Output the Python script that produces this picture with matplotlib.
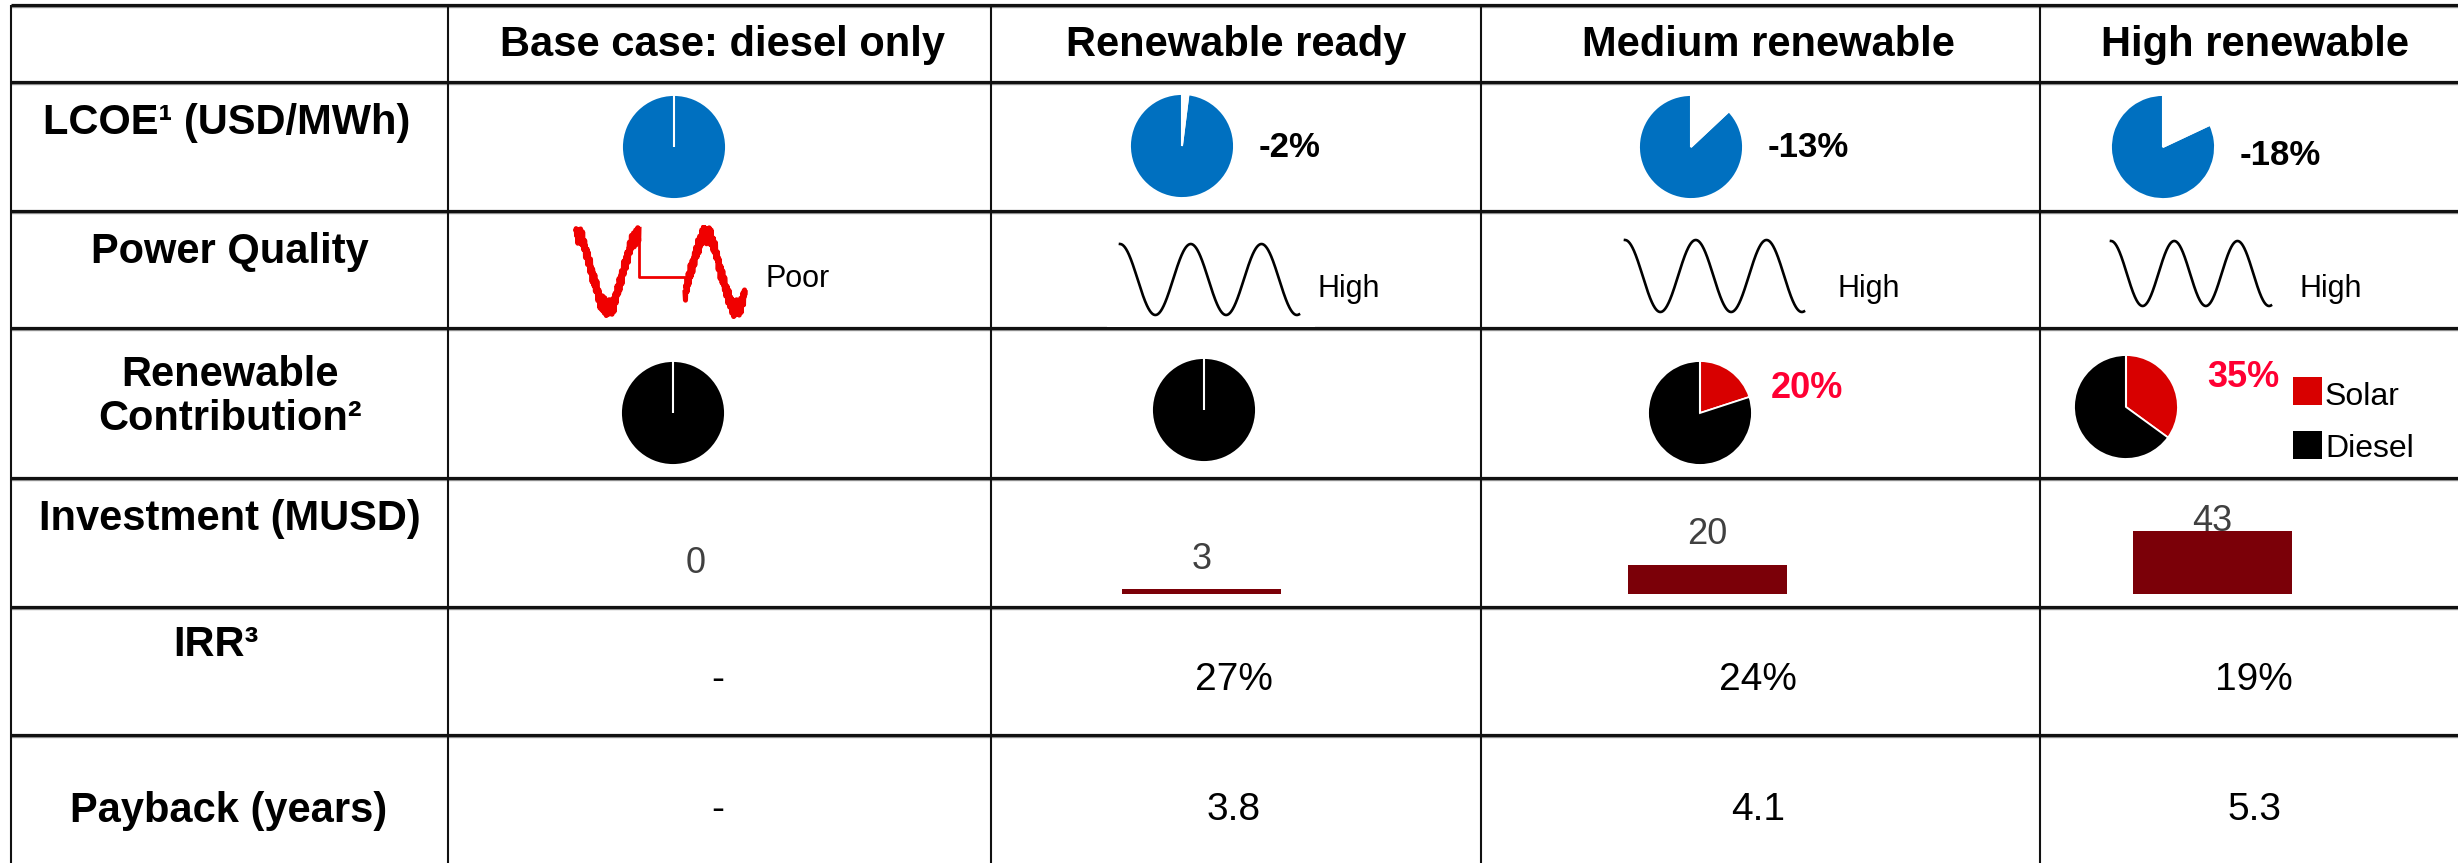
import numpy as np
import matplotlib
matplotlib.use("Agg")
import matplotlib.pyplot as plt

plt.rcParams["font.family"] = ["Liberation Sans", "DejaVu Sans"]

# ---- table content -------------------------------------------------------
scenarios = ["Base case: diesel only", "Renewable ready", "Medium renewable", "High renewable"]
row_labels = ["LCOE\u00b9 (USD/MWh)", "Power Quality", "Renewable\nContribution\u00b2",
              "Investment (MUSD)", "IRR\u00b3", "Payback (years)"]
lcoe_change_pct = [0, -2, -13, -18]
power_quality = ["Poor", "High", "High", "High"]
solar_share_pct = [0, 0, 20, 35]
investment_musd = [0, 3, 20, 43]
irr_pct = [None, 27, 24, 19]
payback_years = [None, 3.8, 4.1, 5.3]
mix_legend = ["Solar", "Diesel"]

# ---- colours ---------------------------------------------------------------
BLUE = "#0070C0"
PIE_RED = "#D80000"
TEXT_RED = "#FF0033"
BAR_RED = "#7B0008"
GREY_TXT = "#404040"

W, H = 2458, 863
fig = plt.figure(figsize=(W / 100, H / 100), dpi=100)
ax = fig.add_axes([0, 0, 1, 1])
ax.set_xlim(0, W)
ax.set_ylim(H, 0)
ax.axis("off")


def sub_axes(x0, y0, w, h):
    """Axes placed by pixel box (top-left origin)."""
    return fig.add_axes([x0 / W, 1 - (y0 + h) / H, w / W, h / H])


# ---- grid ------------------------------------------------------------------
h_lines = [5, 82, 211, 328, 478, 607, 735]
v_lines = [11, 448, 991, 1481, 2040]
for y in h_lines:
    ax.plot([11, W], [y + 2, y + 2], color="#9a9a9a", lw=1.0, solid_capstyle="butt", zorder=1)
    ax.plot([11, W], [y, y], color="#111111", lw=2.3, solid_capstyle="butt", zorder=2)
for x in v_lines:
    ax.plot([x, x], [5, H], color="#111111", lw=1.5, solid_capstyle="butt", zorder=2)

# ---- header and row labels -------------------------------------------------
header_x = [722, 1236, 1768, 2255]
for x, s in zip(header_x, scenarios):
    ax.text(x, 56, s, ha="center", va="baseline", fontsize=30, fontweight="bold")

# baseline of the last line of each label
label_pos = [(227, 134), (230, 263), (230, 430), (230, 530), (216, 656), (229, 822)]
for (x, y), s in zip(label_pos, row_labels):
    ax.text(x, y, s, ha="center", va="baseline", fontsize=30, fontweight="bold",
            linespacing=1.12, multialignment="center")


# ---- pies ------------------------------------------------------------------
def pie_at(cx, cy, r, values, colors, counterclock):
    a = sub_axes(cx - r, cy - r, 2 * r, 2 * r)
    a.pie(values, colors=colors, startangle=90, counterclock=counterclock,
          wedgeprops=dict(edgecolor="white", linewidth=1.3))
    a.plot([0, 0], [0, 1.02], color="white", lw=1.5, solid_capstyle="butt")
    a.set_xlim(-1.02, 1.02)
    a.set_ylim(-1.02, 1.02)
    a.set_aspect("equal")
    a.axis("off")
    return a


lcoe_centers = [(674, 147), (1182, 146), (1691, 147), (2163, 147)]
lcoe_label_base = [157, 157, 157, 165]
for (cx, cy), chg, yb in zip(lcoe_centers, lcoe_change_pct, lcoe_label_base):
    pie_at(cx, cy, 53, [100 + chg, -chg], [BLUE, "white"], True)
    if chg != 0:
        ax.text(cx + 53 + 24, yb, f"{chg}%", ha="left", va="baseline",
                fontsize=25, fontweight="bold")

mix_centers = [(673, 413), (1204, 410), (1700, 413), (2126, 407)]
mix_label_pos = [None, None, (1771, 398), (2207, 387)]
for (cx, cy), s, lp in zip(mix_centers, solar_share_pct, mix_label_pos):
    pie_at(cx, cy, 53, [s, 100 - s], [PIE_RED, "black"], False)
    if s > 0:
        ax.text(lp[0], lp[1], f"{s}%", ha="left", va="baseline",
                fontsize=26, fontweight="bold", color=TEXT_RED)

# legend for the generation mix
for (sq_y, base), name, col in zip([(377, 405), (431, 457)], mix_legend, [PIE_RED, "black"]):
    ax.add_patch(plt.Rectangle((2293, sq_y), 29, 28, color=col, lw=0))
    ax.text(2325, base, name, ha="left", va="baseline", fontsize=23)

# ---- power-quality waveforms -----------------------------------------------
# distorted supply: noisy sine interrupted by a sag
wa = sub_axes(566, 225, 186, 95)


def ripple(t):
    return (0.11 * np.sin(2 * np.pi * 31 * t) + 0.08 * np.sin(2 * np.pi * 57 * t + 1.3)
            + 0.06 * np.sin(2 * np.pi * 97 * t + 0.4) + 0.04 * np.sin(2 * np.pi * 151 * t + 2.1))


ta = np.linspace(0, 1, 700)
xa = 576 + 63 * ta
ya = np.cos(2 * np.pi * ta) + ripple(ta)
tb = np.linspace(0.65, 1.65, 700)
xb = 685 + 60 * (tb - 0.65)
yb = np.cos(2 * np.pi * tb) + ripple(tb + 0.37)
wa.plot(xa, ya, color="#F00000", lw=3.6)
wa.plot(xb, yb, color="#F00000", lw=3.6)
wa.plot([xa[-1], xa[-1], xb[0], xb[0]], [ya[-1], -0.15, -0.15, yb[0]], color="#F00000", lw=2.0)
wa.set_xlim(566, 752)
wa.set_ylim(-1.3, 1.25)
wa.axis("off")
ax.text(766, 287, power_quality[0], ha="left", va="baseline", fontsize=22)

# clean supply: pure sine
sine_boxes = [None, (1120, 244, 179, 71), (1625, 240, 179, 72), (2111, 241, 160, 65)]
high_text = [None, (1318, 297), (1837, 297), (2300, 297)]
ts = np.linspace(0, 2.53, 600)
for box, tp, q in zip(sine_boxes, high_text, power_quality):
    if box is None:
        continue
    x0, y0, w, h = box
    sa = sub_axes(x0 - 4, y0 - 4, w + 8, h + 8)
    sa.plot(ts, np.cos(2 * np.pi * ts), color="black", lw=1.9)
    pad_x = 4 * 2.53 / w
    sa.set_xlim(-pad_x, 2.53 + pad_x)
    pad_y = 4 * 2.0 / h
    sa.set_ylim(-1 - pad_y, 1 + pad_y)
    sa.axis("off")
    ax.text(tp[0], tp[1], q, ha="left", va="baseline", fontsize=22)

# white backing of the clean-sine icon slightly covering the row border
ax.add_patch(plt.Rectangle((1107, 324.5), 208, 2.5, color="white", lw=0, zorder=3))

# ---- investment bars -------------------------------------------------------
px_per_unit = 1.45
slot = 505.6
bx0, bbase, btop = 443, 593.5, 480
ba = sub_axes(bx0, btop, W - bx0, bbase - btop)
pos = np.arange(len(investment_musd))
ba.bar(pos, investment_musd, width=159 / slot, color=BAR_RED, zorder=3)
ba.set_xlim(-0.5, -0.5 + (W - bx0) / slot)
ba.set_ylim(0, (bbase - btop) / px_per_unit)
for i, v in zip(pos, investment_musd):
    ba.text(i, min(v + 14, 43), f"{v}", ha="center", va="baseline",
            fontsize=26, color=GREY_TXT, zorder=2)
ba.axis("off")

# ---- IRR and payback -------------------------------------------------------
val_x = [718, 1234, 1758, 2254]
for x, irr, pb in zip(val_x, irr_pct, payback_years):
    ax.text(x, 690, "-" if irr is None else f"{irr}%", ha="center", va="baseline", fontsize=28)
    ax.text(x, 820, "-" if pb is None else f"{pb}", ha="center", va="baseline", fontsize=28)

fig.savefig("out.png", dpi=100)
